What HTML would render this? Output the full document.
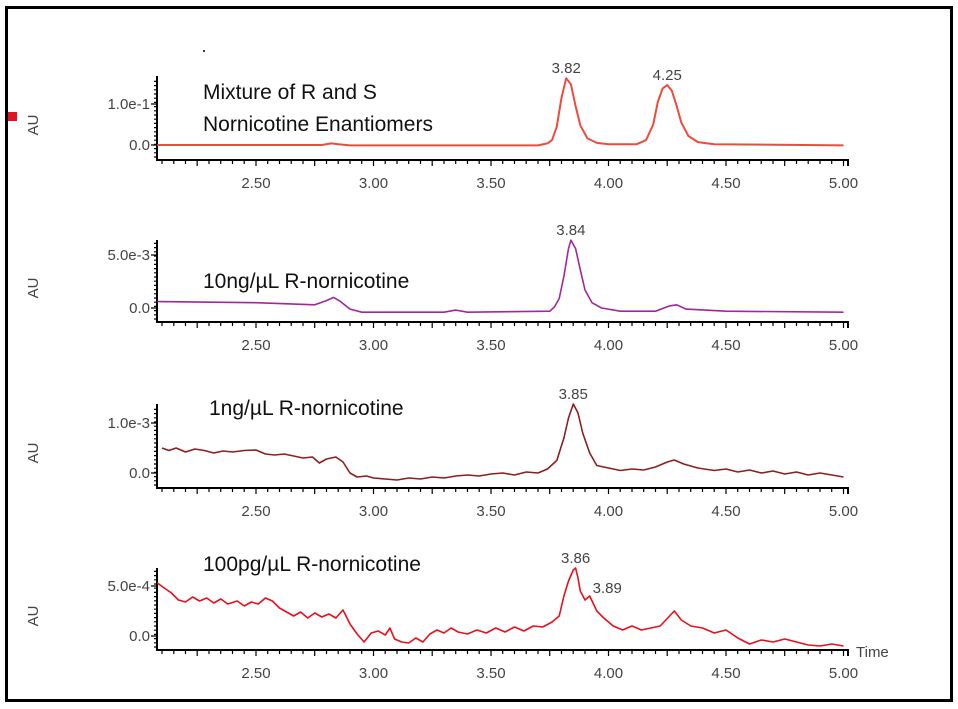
<!DOCTYPE html>
<html><head><meta charset="utf-8"><style>
html,body{margin:0;padding:0;background:#fff;}
svg{display:block;font-family:"Liberation Sans",sans-serif;}
.tl{font-size:15px;fill:#444;}
.ti{font-family:"Liberation Sans","DejaVu Sans",sans-serif;font-size:21px;fill:#111;}
</style></head><body>
<svg id="c" width="958" height="709" viewBox="0 0 958 709">
<rect x="6.5" y="7.5" width="945" height="693" fill="none" stroke="#000" stroke-width="3"/>
<rect x="8" y="112" width="9" height="9" fill="#e0141e"/>
<circle cx="204" cy="51" r="1" fill="#000"/>
</svg>
<script>
// shared x-axis
const xTicks = [2.50, 3.00, 3.50, 4.00, 4.50, 5.00];
// panel 1
const p1Time = [2.08,2.78,2.82,2.85,2.90,3.70,3.74,3.76,3.78,3.80,3.82,3.84,3.86,3.88,3.91,3.95,4.00,4.12,4.16,4.19,4.21,4.23,4.25,4.27,4.29,4.31,4.34,4.38,4.45,5.00];
const p1Val = [0,0,0.004,0.002,-0.001,-0.001,0.004,0.012,0.045,0.115,0.163,0.148,0.095,0.048,0.016,0.005,0.002,0.002,0.012,0.05,0.105,0.138,0.146,0.132,0.095,0.055,0.022,0.007,0.002,-0.001];
const p1Peaks = [3.82, 4.25];
// panel 2 (x1e-3)
const p2Time = [2.08,2.5,2.75,2.80,2.83,2.86,2.90,2.95,3.3,3.35,3.4,3.75,3.77,3.79,3.81,3.83,3.84,3.86,3.88,3.90,3.93,3.97,4.05,4.2,4.26,4.29,4.33,4.5,5.0];
const p2Val = [0.6,0.5,0.3,0.7,1.0,0.6,-0.1,-0.4,-0.4,-0.2,-0.4,-0.3,0.1,0.9,3.0,5.6,6.4,5.6,3.6,1.7,0.5,0,-0.3,-0.3,0.2,0.3,-0.1,-0.3,-0.4];
const p2Peaks = [3.84];
// panel 3 (x1e-3)
const p3Time = [2.10,2.13,2.16,2.20,2.24,2.28,2.32,2.36,2.40,2.45,2.50,2.54,2.58,2.62,2.66,2.70,2.74,2.77,2.80,2.84,2.87,2.90,2.93,2.97,3.00,3.05,3.10,3.15,3.20,3.25,3.30,3.35,3.40,3.45,3.50,3.55,3.60,3.65,3.70,3.74,3.78,3.81,3.83,3.85,3.87,3.89,3.92,3.95,4.00,4.05,4.10,4.15,4.20,4.25,4.28,4.32,4.38,4.45,4.50,4.55,4.60,4.65,4.70,4.75,4.80,4.85,4.90,4.95,5.00];
const p3Val = [.50,.45,.50,.42,.48,.45,.40,.44,.42,.45,.46,.38,.36,.38,.34,.30,.32,.20,.28,.32,.22,.00,-.08,-.06,-.10,-.12,-.14,-.10,-.12,-.08,-.10,-.06,-.04,-.06,-.02,0,-.04,.02,0,.08,.25,.70,1.10,1.38,1.20,.80,.40,.15,.10,.05,.08,.06,.12,.22,.26,.18,.10,.05,.08,.02,.06,0,.04,-.02,.02,-.04,0,-.04,-.08];
const p3Peaks = [3.85];
// panel 4 (x1e-4)
const p4Time = [2.08,2.11,2.14,2.17,2.20,2.23,2.26,2.29,2.32,2.35,2.38,2.42,2.45,2.48,2.51,2.54,2.57,2.60,2.63,2.66,2.69,2.72,2.75,2.78,2.81,2.84,2.87,2.90,2.93,2.96,2.99,3.02,3.05,3.07,3.09,3.12,3.15,3.18,3.21,3.24,3.27,3.30,3.33,3.36,3.40,3.44,3.48,3.52,3.56,3.60,3.64,3.68,3.72,3.76,3.79,3.81,3.83,3.85,3.86,3.87,3.88,3.90,3.92,3.95,3.98,4.02,4.06,4.10,4.14,4.18,4.22,4.26,4.28,4.31,4.35,4.40,4.45,4.50,4.55,4.60,4.65,4.70,4.75,4.80,4.85,4.90,4.95,5.00];
const p4Val = [5.3,4.8,4.3,3.6,3.4,3.9,3.5,3.8,3.3,3.7,3.2,3.5,3.0,3.4,3.2,3.8,3.5,2.8,2.4,2.0,2.4,1.8,2.3,1.9,2.2,1.8,2.6,1.2,0.2,-0.6,0.3,0.5,0.1,0.8,-0.3,-0.6,-0.7,-0.2,-0.6,0.2,0.6,0.3,0.8,0.4,0.2,0.6,0.3,0.8,0.4,0.9,0.5,1.0,0.9,1.4,2.0,4.0,5.5,6.6,6.8,5.8,4.5,3.6,4.0,2.5,1.8,1.0,0.6,1.0,0.6,0.8,1.0,2.0,2.5,1.6,1.0,0.8,0.3,0.6,-0.2,-0.8,-0.4,-0.6,-0.3,-0.6,-0.9,-1.0,-0.8,-1.0];
const p4Peaks = [3.86];

const NS='http://www.w3.org/2000/svg';
const svg=document.getElementById('c');
function mk(tag,attrs,parent){const e=document.createElementNS(NS,tag);for(const k in attrs)e.setAttribute(k,attrs[k]);(parent||svg).appendChild(e);return e;}
const X0=157, X1=848;
function xs(t){return 256+(t-2.5)*235;}

const panels=[
 {name:'mixture',time:p1Time,val:p1Val,zeroY:145,topY:104,topVal:0.1,topLab:'1.0e-1',axisY:160,axTop:76,col:'#f04a3c',peaks:p1Peaks,title:['Mixture of R and S','Nornicotine Enantiomers'],tx:203,ty:[99,131]},
 {name:'10ng',time:p2Time,val:p2Val,zeroY:308,topY:255,topVal:5,topLab:'5.0e-3',axisY:322,axTop:240,col:'#a0289a',peaks:p2Peaks,title:['10ng/\u00b5L R-nornicotine'],tx:203,ty:[288]},
 {name:'1ng',time:p3Time,val:p3Val,zeroY:473,topY:423,topVal:1,topLab:'1.0e-3',axisY:488,axTop:404,col:'#8a2020',peaks:p3Peaks,title:['1ng/\u00b5L R-nornicotine'],tx:209,ty:[415]},
 {name:'100pg',time:p4Time,val:p4Val,zeroY:636,topY:586,topVal:5,topLab:'5.0e-4',axisY:650,axTop:568,col:'#e8101c',peaks:p4Peaks,title:['100pg/\u00b5L R-nornicotine'],tx:203,ty:[571]}
];

panels.forEach((p,pi)=>{
  const g=mk('g',{});
  
  
  const ys=v=>p.zeroY-(v/p.topVal)*(p.zeroY-p.topY);
  const ax=mk('path',{d:`M${X0},${p.axTop}V${p.axisY}H${X1}V${p.axisY+6}`,fill:'none',stroke:'#000','stroke-width':2},g);
  
  
  let d='';
  for(let y=p.axisY-3;y>=p.axTop+2;y-=4.2){d+=`M${X0-3},${y.toFixed(1)}H${X0}`;}
  d+=`M${X0-6},${p.zeroY}H${X0}M${X0-6},${p.topY}H${X0}`;
  for(let t=2.10;t<=5.001;t+=0.05){const x=xs(t);const big=Math.abs((t*4)-Math.round(t*4))<0.01;d+=`M${x.toFixed(1)},${p.axisY}V${p.axisY+(big?6:4)}`;}
  const tk=mk('path',{d:d,stroke:'#000','stroke-width':1.2,fill:'none'},g);
  
  
  xTicks.forEach(t=>{const e=mk('text',{x:xs(t),y:p.axisY+28,'text-anchor':'middle',class:'tl'},g);e.textContent=t.toFixed(2);
    
    });
  [[p.zeroY,'0.0'],[p.topY,p.topLab]].forEach(a=>{const e=mk('text',{x:X0-7,y:a[0]+5,'text-anchor':'end',class:'tl'},g);e.textContent=a[1];
    
    });
  const au=mk('text',{transform:`translate(38,${p.zeroY-20}) rotate(-90)`,'text-anchor':'middle',class:'tl','font-size':'14'},g);au.textContent='AU';
  
  
  p.title.forEach((s,i)=>{const e=mk('text',{x:p.tx,y:p.ty[i],class:'ti'},g);e.textContent=s;
    
    });
  const pts=p.time.map((t,i)=>xs(t).toFixed(1)+','+ys(p.val[i]).toFixed(1)).join(' ');
  const ln=mk('polyline',{points:pts,fill:'none',stroke:p.col,'stroke-width':pi==0?2:1.6,'stroke-linejoin':'round'},g);
  
  
  p.peaks.forEach(pk=>{let best=0;p.time.forEach((t,i)=>{if(Math.abs(t-pk)<0.025&&p.val[i]>best)best=p.val[i];});
    const e=mk('text',{x:xs(pk),y:ys(best)-5,'text-anchor':'middle',class:'tl'},g);e.textContent=pk.toFixed(2);
    
    });
  if(pi==3){
    const e=mk('text',{x:xs(3.89)+10,y:ys(4.3),class:'tl'},g);e.textContent='3.89';
    
    
    const tm=mk('text',{x:X1+8,y:p.axisY+7,class:'tl'},g);tm.textContent='Time';
    
    
  }
});
</script>
</body></html>
